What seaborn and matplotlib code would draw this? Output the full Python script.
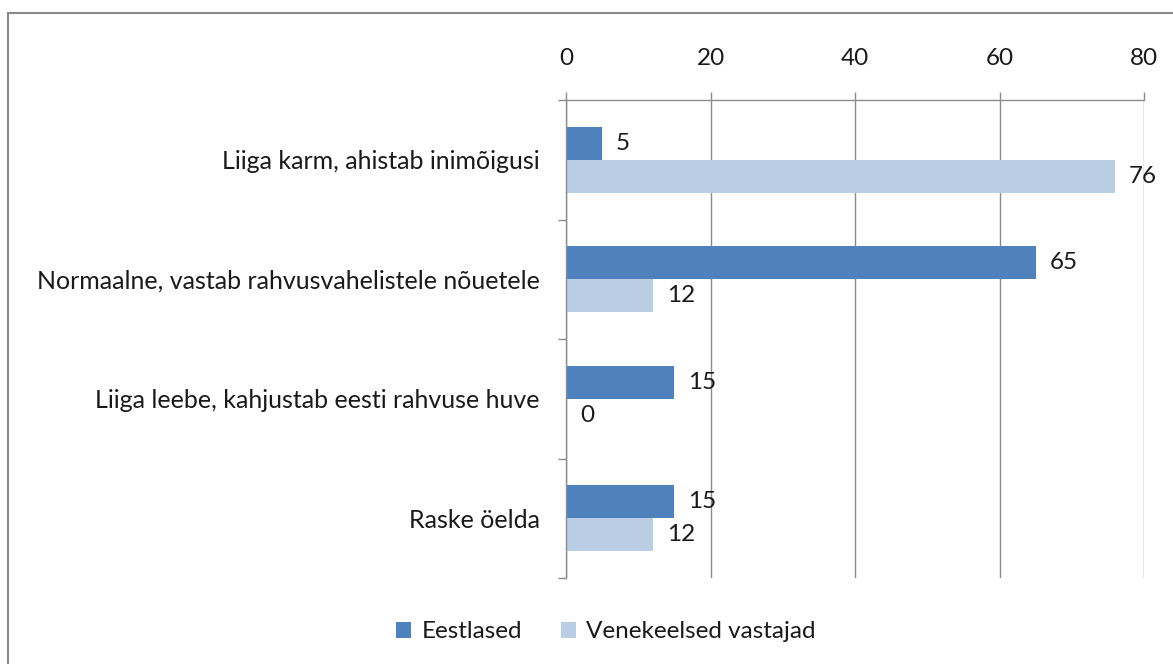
import matplotlib
matplotlib.use("Agg")
import matplotlib.pyplot as plt
import matplotlib.patches as patches
import seaborn as sns
import pandas as pd
import numpy as np

sns.set_theme(style="white")
plt.rcParams['font.family'] = ['Lato', 'DejaVu Sans']

# andmed
kategooriad = ['Liiga karm, ahistab inimõigusi',
               'Normaalne, vastab rahvusvahelistele nõuetele',
               'Liiga leebe, kahjustab eesti rahvuse huve',
               'Raske öelda']
eestlased = [5, 65, 15, 15]
venekeelsed = [76, 12, 0, 12]
grupid = ['Eestlased', 'Venekeelsed vastajad']
varvid = ['#4F81BD', '#B9CDE5']
xticks = [0, 20, 40, 60, 80]

df = pd.DataFrame({
    'Kategooria': kategooriad * 2,
    'Protsent': eestlased + venekeelsed,
    'Grupp': [grupid[0]] * 4 + [grupid[1]] * 4,
})

fs = 17.5
tekst = '#1a1a1a'
joon = '#8c8c8c'

fig = plt.figure(figsize=(11.73, 6.64), dpi=100)
ax = fig.add_axes([566 / 1173, 1 - 578 / 664, (1144 - 566) / 1173, (578 - 100) / 664])

sns.barplot(data=df, y='Kategooria', x='Protsent', hue='Grupp', orient='h',
            palette=varvid, width=0.55, ax=ax, saturation=1, linewidth=0, legend=True)

for c in ax.containers:
    ax.bar_label(c, padding=10, fontsize=fs, color=tekst)

ax.set_xlim(0, 80)
ax.set_ylim(3.5, -0.5)
ax.set_xticks(xticks)
ax.xaxis.tick_top()
ax.tick_params(axis='x', which='major', direction='out', length=6, width=1,
               color=joon, pad=16, labelsize=fs, labelcolor=tekst, top=True, bottom=False)
ax.set_yticks(np.arange(-0.5, 4, 1), minor=True)
ax.tick_params(axis='y', which='major', length=0, pad=19, labelsize=18, labelcolor=tekst)
ax.tick_params(axis='y', which='minor', direction='out', length=6, width=1,
               color=joon, left=True)
ax.grid(axis='x', color=joon, linewidth=1)
ax.set_xlabel('')
ax.set_ylabel('')
for s in ['right', 'bottom']:
    ax.spines[s].set_visible(False)
for s in ['top', 'left']:
    ax.spines[s].set_color(joon)
    ax.spines[s].set_linewidth(1)

h, l = ax.get_legend_handles_labels()
ax.legend_.remove()
fig.legend(h, l, loc='center', bbox_to_anchor=(606 / 1173, 1 - 632 / 664), ncol=2,
           frameon=False, fontsize=fs, handlelength=0.6, handleheight=0.6,
           columnspacing=1.6, handletextpad=0.45, labelcolor=tekst)

raam = patches.Rectangle((8 / 1173, -0.1), 1.2, 1 - 13 / 664 + 0.1, transform=fig.transFigure,
                         fill=False, edgecolor='#8a8a8a', linewidth=1.5)
fig.patches.append(raam)

fig.savefig('out.png', dpi=100)
